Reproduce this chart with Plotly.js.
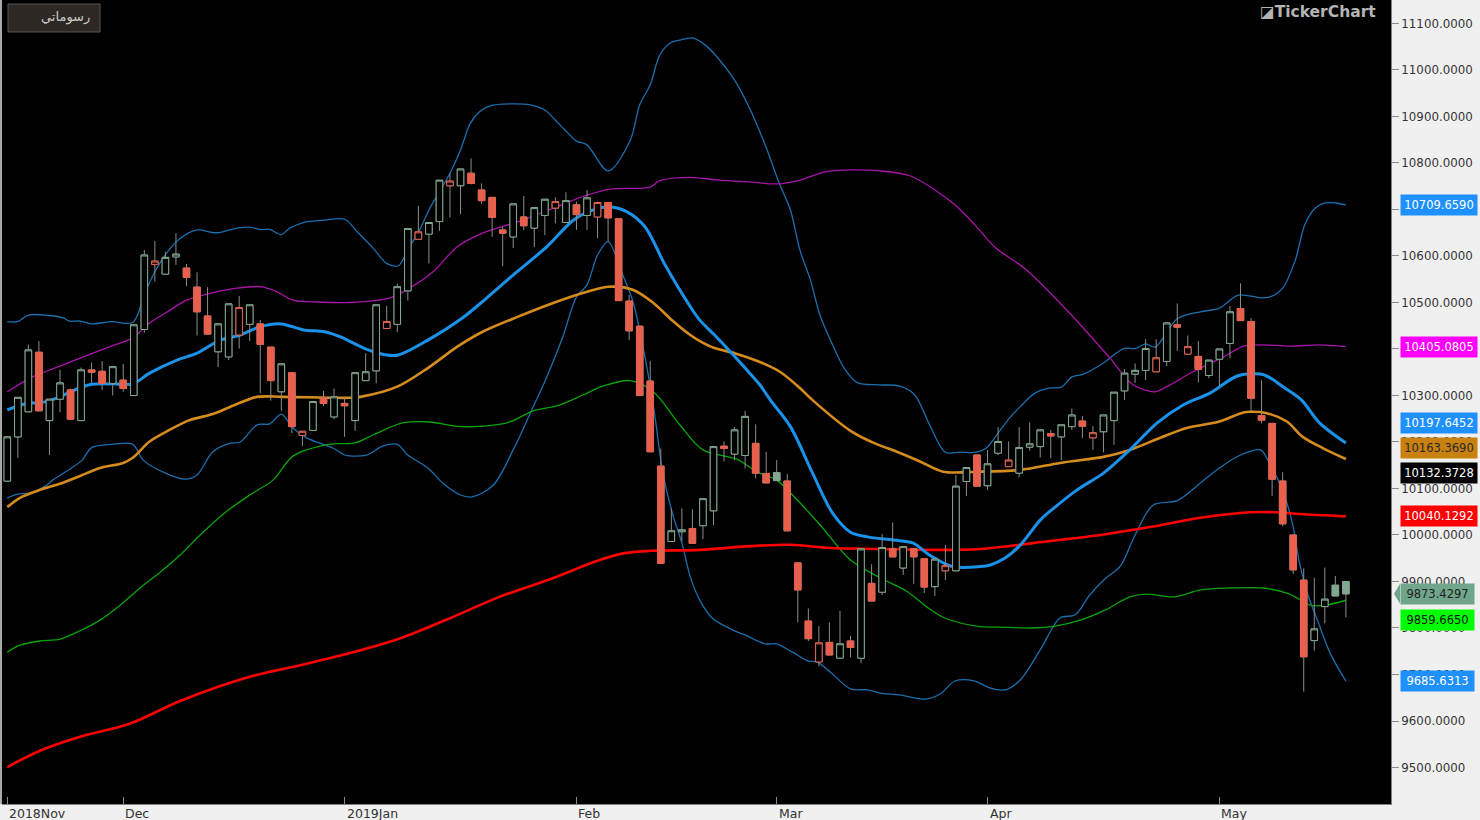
<!DOCTYPE html>
<html><head><meta charset="utf-8">
<script src="https://cdn.plot.ly/plotly-3.0.1.min.js"></script>
<style>html,body{margin:0;padding:0;background:#f0f0f0;overflow:hidden}#c{width:1480px;height:820px}</style>
</head><body><div id="c"></div>
<script>
const openP=[10116,10211,10265,10393,10246,10292,10312,10246,10355,10352,
10326,10333,10300,10442,10582,10561,10598,10574,10533,10471,
10394,10383,10430,10453,10454,10404,10308,10349,10214,10225,
10295,10254,10283,10246,10332,10353,10444,10453,10525,10636,
10647,10674,10751,10751,10778,10742,10726,10656,10641,10684,
10660,10687,10703,10672,10710,10687,10684,10715,10680,10503,
10449,10331,10148,9986,10007,10014,10020,10052,10191,10174,
10171,10197,10132,10134,10116,9940,9815,9727,9769,9735,
9772,9735,9896,9877,9971,9929,9971,9949,9889,9923,
9923,10115,10172,10106,10176,10147,10133,10189,10190,10218,
10211,10233,10245,10209,10222,10246,10310,10346,10354,10351,
10373,10452,10389,10384,10343,10378,10412,10487,10459,10257,
10240,10116,10000,9903,9773,9846,9892,9900];
const highP=[10211,10296,10409,10417,10292,10355,10315,10360,10371,10374,
10362,10368,10452,10613,10632,10609,10649,10583,10565,10533,
10454,10497,10514,10495,10462,10404,10368,10349,10223,10287,
10310,10315,10297,10349,10391,10495,10493,10541,10659,10708,
10672,10763,10778,10787,10810,10756,10726,10663,10712,10729,
10704,10722,10726,10737,10717,10742,10717,10715,10680,10516,
10449,10374,10186,10057,10057,10055,10078,10190,10201,10232,
10267,10238,10179,10161,10131,9940,9842,9804,9812,9837,
9783,9970,9937,10002,10027,9975,9971,9949,9948,9979,
10129,10145,10172,10183,10232,10201,10232,10242,10226,10226,
10237,10272,10256,10234,10258,10307,10357,10369,10421,10421,
10456,10498,10429,10417,10376,10400,10492,10541,10467,10333,
10240,10135,10000,9928,9908,9930,9912,9900];
const lowP=[10116,10166,10265,10267,10172,10264,10249,10245,10326,10312,
10300,10308,10300,10435,10545,10561,10581,10535,10429,10432,
10361,10376,10401,10417,10305,10289,10267,10219,10191,10225,
10277,10249,10211,10224,10332,10326,10444,10436,10504,10636,
10584,10654,10683,10690,10754,10712,10641,10578,10617,10656,
10619,10645,10670,10672,10656,10656,10638,10631,10504,10419,
10300,10179,9939,9986,9986,9982,9991,10021,10158,10161,
10143,10122,10112,10117,10009,9812,9772,9718,9742,9735,
9737,9724,9858,9871,9953,9914,9895,9875,9869,9903,
9923,10084,10105,10097,10172,10147,10124,10181,10167,10165,
10161,10226,10208,10183,10178,10194,10290,10327,10333,10351,
10363,10396,10389,10328,10337,10321,10380,10461,10265,10240,
10084,10019,9916,9663,9751,9810,9869,9823];
const closeP=[10211,10296,10398,10267,10292,10327,10249,10355,10350,10326,
10362,10315,10452,10602,10589,10597,10604,10554,10480,10432,
10454,10497,10489,10495,10410,10332,10368,10233,10223,10287,
10283,10297,10278,10349,10351,10495,10459,10534,10659,10652,
10672,10763,10761,10787,10756,10719,10683,10649,10712,10665,
10704,10722,10717,10719,10689,10725,10715,10682,10504,10439,
10300,10179,9939,10009,10011,9982,10078,10190,10186,10226,
10255,10133,10112,10117,10009,9882,9777,9768,9742,9766,
9758,9970,9858,9973,9953,9975,9953,9888,9948,9934,
10105,10145,10105,10153,10201,10161,10188,10196,10226,10213,
10237,10258,10234,10220,10258,10307,10348,10354,10401,10381,
10456,10447,10405,10356,10376,10400,10480,10461,10294,10247,
10120,10024,9925,9738,9798,9862,9869,9873.43];

const upIdx=[0,1,2,4,5.3,5.9,6.9,8,9.9,11.9,13.1,14,15.2,16.1,17,18,19.9,21.8,23,24,24.9,26,26.8,28.1,30.1,32,33.2,34.7,36,37.1,38,39.2,40.1,41.1,42,43,43.9,44.8,45.8,47.7,49.6,51,52,52.9,54,55,57,59.1,60,61,61.9,62.9,63.8,65,66.2,67.6,69,70.5,71.9,73.3,74.3,75.2,76.2,77.1,78.1,79.5,80.7,82.8,84.7,86.1,87.5,89,90.4,92,92.9,94,95.1,96.1,97.5,98.8,100,101,102.1,104,105.9,107,108,108.9,111,113.2,115,116.8,118.9,119.8,121,122.2,123.1,124.1,125,126,127];
const upVal=[10459,10459,10473,10472,10467,10460,10460,10454,10459,10457,10523,10566,10609,10632,10647,10656,10650,10660,10662,10657,10657,10646,10660,10672,10677,10679,10652,10617,10584,10579,10613,10660,10703,10742,10778,10828,10884,10910,10923,10927,10925,10914,10892,10871,10847,10839,10783,10849,10925,10968,11032,11058,11064,11069,11054,11021,10978,10914,10839,10753,10699,10613,10548,10473,10419,10355,10327,10323,10320,10301,10237,10178,10178,10178,10187,10219,10252,10276,10305,10316,10318,10340,10346,10370,10401,10401,10411,10404,10465,10480,10488,10516,10510,10512,10531,10591,10667,10703,10714,10714,10709.659];
const loIdx=[0,1,2.1,3.6,4.3,6.1,7.1,8,9.9,11.9,12.9,15,16.9,18,19.5,21.1,22.1,23.7,24.9,26,27.1,28.4,30.9,32,32.5,34.1,35.6,37,38,39.9,41.3,43,44.1,46.1,48,49.9,51,52.7,54,55,56,57,58.4,59.4,60.5,61.4,62.2,63.2,64,64.8,65.7,66.9,68.8,70,71.9,73,74.5,76,76.8,78.1,80,81.6,82.8,84.7,87.1,88.5,89.9,91.8,93.2,94.7,96.1,98,99.9,101.3,102.7,104.2,105.6,107,108.7,111,113.2,115,116.9,118.9,119.6,120.5,121.4,122,122.6,123.4,124.3,125.5,127];
const loVal=[10080,10088,10090,10105,10118,10144,10161,10188,10195,10195,10161,10133,10120,10129,10179,10197,10200,10237,10239,10260,10230,10209,10187,10172,10170,10172,10191,10195,10172,10144,10112,10086,10082,10107,10183,10276,10330,10426,10512,10538,10602,10631,10559,10499,10383,10262,10133,10039,9983,9910,9860,9821,9796,9785,9766,9766,9748,9729,9727,9705,9669,9667,9660,9656,9647,9658,9686,9686,9671,9667,9688,9753,9822,9828,9871,9907,9933,10000,10064,10074,10112,10144,10171,10183,10161,10122,10069,10017,9940,9871,9817,9746,9685.6313];
const ma20Idx=[0,2,3.1,5,6,7.8,10,11.9,13.5,16.1,18,20.2,22.1,24,26,28.1,30.1,31.6,34.1,36,37.1,39.9,43.2,45.5,48.2,51.2,53.7,55.6,57.1,58.8,60.5,62.4,64.8,65.7,67.1,68.6,70,71.4,72.4,74.3,76.4,78.3,80,81.6,84.1,85.9,87.5,89.7,92.3,93.2,94.7,96.1,98,99.2,101.5,104,106.5,109.1,111.6,114.1,116.7,118.9,119.8,121.2,122.8,124.5,127];
const ma20Val=[10269,10284,10284,10297,10308,10323,10325,10325,10348,10376,10391,10419,10430,10448,10454,10441,10437,10426,10399,10387,10387,10419,10467,10510,10563,10620,10677,10699,10706,10695,10663,10581,10491,10462,10430,10394,10359,10323,10290,10233,10133,10047,10006,9996,9989,9983,9957,9932,9932,9935,9951,9978,10032,10056,10097,10133,10183,10241,10280,10305,10342,10346,10338,10316,10290,10241,10197.6452];
const ma50Idx=[0,1.2,3.1,5,6.9,8.8,11,11.9,13.5,15.4,17.3,19.5,21.4,23.7,26.2,32.5,33.5,37,39.9,42.7,45.1,48.4,51.8,55,57.1,59.4,61.3,63.2,64.8,65.7,67.1,69,71.4,73.3,75.2,76.4,80,82.2,84.4,86.6,88.8,92,96.1,99.9,104,106.5,109.4,111.9,115,117.2,117.9,119.5,121.4,122.9,124.8,127];
const ma50Val=[10060,10080,10097,10110,10127,10144,10155,10166,10201,10226,10247,10260,10278,10297,10297,10295,10297,10319,10359,10405,10437,10469,10499,10523,10534,10527,10499,10459,10430,10417,10402,10391,10372,10351,10316,10290,10224,10198,10179,10158,10136,10136,10140,10155,10168,10183,10209,10230,10244,10263,10265,10262,10244,10211,10187,10163.369];
const purpleIdx=[0,2.4,5,7.2,10,11.9,13.5,15.2,17,19.5,21.8,24,25.6,27.1,29.4,32.5,36.3,38.4,40.4,42.7,45.1,48.9,51.8,55,57.2,61,61.9,64.8,67.6,70.5,73.3,75.2,77.6,80,82.8,85.7,88,89.9,91.8,93.7,96.7,100.8,104.6,106.8,108.9,110,112.5,115.4,117.3,118.9,121.7,124.5,127];
const purpleVal=[10308,10340,10363,10383,10407,10424,10456,10480,10505,10521,10531,10534,10523,10505,10501,10500,10510,10534,10566,10620,10649,10677,10703,10731,10744,10748,10762,10769,10763,10759,10755,10763,10781,10785,10783,10772,10742,10710,10667,10619,10570,10477,10381,10323,10308,10319,10351,10383,10406,10409,10406,10409,10405.0805];
const greenIdx=[0,1.2,3.1,5,6.9,8.8,10.7,12.6,14.5,16.4,18.3,20.7,23,25.2,27,28.4,30.9,33,34.7,37.5,40.1,43,47.4,49.9,52.2,54.6,56.5,59.1,61.3,63.8,66,69.2,71.1,73,74.5,77.1,80,82.8,85.4,87.2,89,92.3,94.2,97,99.4,101.8,104.2,106.5,108,110.8,113.2,116,119.1,121.4,122.6,123.6,125,127];
const greenVal=[9748,9763,9772,9776,9794,9817,9849,9886,9920,9957,10000,10049,10086,10118,10168,10183,10196,10198,10215,10241,10243,10233,10241,10267,10278,10301,10320,10332,10308,10237,10183,10163,10136,10118,10086,10022,9946,9908,9878,9846,9821,9803,9802,9800,9804,9817,9839,9867,9873,9867,9882,9886,9886,9875,9862,9849,9849,9859.665];
const ma200Idx=[0,3.1,6.9,11.6,16.4,23,27.8,32.5,37.3,42,46.7,51.5,56.2,58.6,61,65.7,70.5,74.3,78.1,82.8,87.5,92.3,98.9,103.7,108.4,113.2,117.9,120.3,122.7,127];
const ma200Val=[9501,9536,9566,9594,9643,9695,9720,9746,9778,9821,9867,9905,9946,9961,9966,9968,9976,9979,9972,9970,9968,9970,9987,10000,10017,10037,10049,10049,10045,10040.1292];

const monthIdx=[0,11,32,54,73,93,115];
const monthLabels=['2018Nov','Dec','2019Jan','Feb','Mar','Apr','May'];
const priceTicks=[9500,9600,9700,9800,9900,10000,10100,10200,10300,10400,10500,10600,10700,10800,10900,11000,11100];
const tagValues=[10709.659,10405.0805,10197.6452,10163.369,10132.3728,10040.1292,9873.4297,9859.665,9685.6313];
const tagFill=['#1e90ff','#ff00ff','#1e90ff','#c8800f','#000000','#ff0000','#6fa58a','#00ff00','#1e90ff'];
const tagInk=['#ffffff','#ffffff','#ffffff','#2a2a2a','#ffffff','#ffffff','#222222','#111111','#ffffff'];
const tagNudge=[0,0,20,11,0,0,0,-19.5,0];
const xRange=[-0.503,131.28], yRange=[9421.5,11150.5];

const GREEN='#7fa88f', RED='#e8604c';
const wicks={type:'candlestick',xaxis:'x2',yaxis:'y2',x:openP.map((_,i)=>i),open:openP,high:highP,low:lowP,close:closeP,
  increasing:{line:{color:'#8c8c8c',width:1},fillcolor:'#8c8c8c'},decreasing:{line:{color:'#8c8c8c',width:1},fillcolor:'#8c8c8c'},hoverinfo:'skip',showlegend:false};
function bodies(keep,upC,upF,dnC,dnF){
  const ii=openP.map((_,i)=>i).filter(keep);
  const o=ii.map(i=>openP[i]),c=ii.map(i=>closeP[i]);
  return {type:'candlestick',xaxis:'x2',yaxis:'y2',x:ii,open:o,close:c,high:o.map((v,k)=>Math.max(v,c[k])),low:o.map((v,k)=>Math.min(v,c[k])),
    increasing:{line:{color:upC,width:1},fillcolor:upF},decreasing:{line:{color:dnC,width:1},fillcolor:dnF},hoverinfo:'skip',showlegend:false};
}
const rising=i=>i===0||closeP[i]>=closeP[i-1];
const normal=i=>(closeP[i]>=openP[i])===rising(i);
const line=(x,y,color,width,shape)=>({type:'scatter',mode:'lines',x,y,line:{color,width,shape:shape||'linear',smoothing:0.9},hoverinfo:'skip',showlegend:false});
const traces=[
  line(upIdx,upVal,'#1b6fae',1.3,'spline'),
  line(loIdx,loVal,'#1b6fae',1.3,'spline'),
  line(purpleIdx,purpleVal,'#aa14aa',1.3,'spline'),
  line(greenIdx,greenVal,'#0aa50a',1.3,'spline'),
  line(ma200Idx,ma200Val,'#ff0000',2.6,'spline'),
  line(ma50Idx,ma50Val,'#d68c1c',2.6,'spline'),
  line(ma20Idx,ma20Val,'#1a92ea',3,'spline'),
  wicks,
  bodies(normal,GREEN,'#000000',RED,RED),
  bodies(i=>!normal(i),RED,'#000000',GREEN,GREEN)
];
const axisFont={family:'"DejaVu Sans", sans-serif',size:11.8,color:'#333333'};
const annotations=[];
monthIdx.forEach((m,k)=>annotations.push({xref:'x',yref:'paper',x:m,y:0,xanchor:'left',yanchor:'top',xshift:0,yshift:0,showarrow:false,text:monthLabels[k],font:{family:axisFont.family,size:12.5,color:'#333333'}}));
tagValues.forEach((v,k)=>{
  const small=v<10000;
  annotations.push({xref:'paper',yref:'y',x:1,y:v,xanchor:'left',yanchor:'middle',xshift:9,yshift:tagNudge[k],
    showarrow:false,text:v.toFixed(4),width:small?73:76,height:20,borderpad:0,align:'center',bgcolor:tagFill[k],
    font:{family:axisFont.family,size:11.5,color:tagInk[k]}});
});
annotations.push({xref:'paper',yref:'paper',x:0,y:1,xanchor:'right',yanchor:'top',xshift:90,yshift:-7,showarrow:false,text:'رسوماتي',font:{family:'"DejaVu Sans"',size:13,color:'#c8c8c8'}});
annotations.push({xref:'paper',yref:'paper',x:1,y:1,xanchor:'right',yanchor:'top',xshift:-13,yshift:-1,showarrow:false,text:'<b>◪TickerChart</b>',font:{family:'"DejaVu Sans"',size:15.5,color:'#b4b4b4'}});
const layout={width:1480,height:820,autosize:false,margin:{l:2,r:89,t:0,b:16,pad:0},paper_bgcolor:'#f0f0f0',plot_bgcolor:'#000000',showlegend:false,
  boxgap:0.38,boxgroupgap:0,
  font:axisFont,
  xaxis:{type:'linear',range:xRange,tickmode:'array',tickvals:monthIdx,ticktext:monthIdx.map(()=>''),ticks:'inside',ticklen:7,tickcolor:'#8c8c8c',tickwidth:1,showgrid:false,zeroline:false,showline:true,linecolor:'#808080',linewidth:1,fixedrange:true},
  yaxis:{side:'right',range:yRange,tickmode:'array',tickvals:priceTicks,ticktext:priceTicks.map(v=>v.toFixed(4)),ticks:'outside',ticklen:7,tickcolor:'#8c8c8c',tickwidth:1,showgrid:false,zeroline:false,showline:true,linecolor:'#808080',linewidth:1,tickfont:axisFont,fixedrange:true},
  xaxis2:{overlaying:'x',type:'linear',range:xRange,visible:false,rangeslider:{visible:false},fixedrange:true},
  yaxis2:{overlaying:'y',side:'right',range:yRange,visible:false,fixedrange:true},
  annotations,
  shapes:[
    {type:'path',layer:'above',xref:'paper',yref:'y',xsizemode:'pixel',ysizemode:'pixel',xanchor:1,yanchor:tagValues[6],path:'M 3 0 L 9 10 L 9 -10 Z',fillcolor:tagFill[6],line:{width:0}},
    {type:'line',layer:'above',xref:'paper',yref:'paper',x0:-0.0007,x1:-0.0007,y0:0,y1:1,line:{color:'#a8a8a8',width:2}},
    {type:'rect',layer:'above',xref:'paper',yref:'paper',xsizemode:'pixel',ysizemode:'pixel',xanchor:0,yanchor:1,x0:6,x1:98,y0:-4,y1:-32,fillcolor:'#2e2825',line:{color:'#5a5550',width:1}}
  ]
};
Plotly.newPlot('c',traces,layout,{displayModeBar:false,staticPlot:true});
</script></body></html>
